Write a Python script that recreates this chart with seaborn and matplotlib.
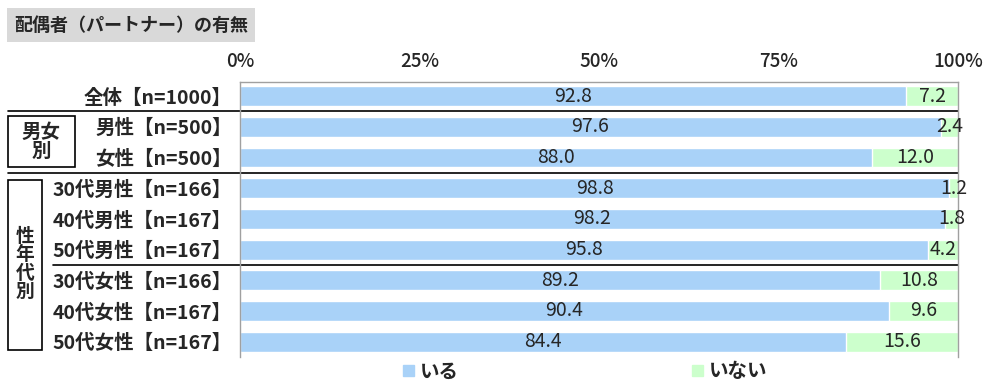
import matplotlib
matplotlib.use("Agg")
import matplotlib.pyplot as plt
import matplotlib.patches as mpatches
import matplotlib.transforms as mtransforms
import seaborn as sns
import pandas as pd

# data
labels = ["全体【n=1000】", "男性【n=500】", "女性【n=500】",
          "30代男性【n=166】", "40代男性【n=167】", "50代男性【n=167】",
          "30代女性【n=166】", "40代女性【n=167】", "50代女性【n=167】"]
iru = [92.8, 97.6, 88.0, 98.8, 98.2, 95.8, 89.2, 90.4, 84.4]
inai = [7.2, 2.4, 12.0, 1.2, 1.8, 4.2, 10.8, 9.6, 15.6]
series = ["いる", "いない"]
xticks = [0, 25, 50, 75, 100]

blue = "#A9D2F8"
green = "#CCFFCC"

sns.set_theme(style="white")
plt.rcParams["font.family"] = ["Noto Sans CJK JP", "DejaVu Sans"]

df = pd.DataFrame({"label": labels, "iru": iru, "inai": inai})
df["total"] = df["iru"] + df["inai"]

fig = plt.figure(figsize=(10, 3.85), dpi=100)
ax = fig.add_axes([0.24, 0.0727, 0.718, 0.714])

# stacked: total in green, then blue on top
sns.barplot(data=df, y="label", x="total", color=green, orient="h",
            width=0.65, ax=ax, saturation=1)
sns.barplot(data=df, y="label", x="iru", color=blue, orient="h",
            width=0.65, ax=ax, saturation=1)

ax.set_xlim(0, 100)
ax.set_ylim(8.49, -0.455)
ax.set_xlabel("")
ax.set_ylabel("")
ax.xaxis.tick_top()
ax.set_xticks(xticks)
ax.set_xticklabels([f"{t}%" for t in xticks], fontsize=13.5, fontweight="medium")
ax.tick_params(axis="x", length=0, pad=8)
ax.set_yticks(range(len(labels)))
ax.set_yticklabels(labels, fontsize=14, fontweight="bold")
ax.tick_params(axis="y", length=0, pad=6)
ax.set_yticks([i + 0.5 for i in range(len(labels))], minor=True)
ax.tick_params(axis="y", which="minor", length=4, direction="in", color="#999999")
for s in ax.spines.values():
    s.set_color("#A0A0A0")
    s.set_linewidth(1)
ax.spines["bottom"].set_visible(False)

# value labels
for i in range(len(labels)):
    ax.text(iru[i] / 2, i, f"{iru[i]:.1f}", ha="center", va="center", fontsize=14)
    ax.text(iru[i] + inai[i] / 2, i, f"{inai[i]:.1f}", ha="center", va="center", fontsize=14)

# group separators
tr = mtransforms.blended_transform_factory(ax.transAxes, ax.transData)
for y, x0 in [(0.5, -0.323), (2.5, -0.323), (5.5, -0.2605)]:
    ax.plot([x0, 1.0], [y, y], transform=tr, color="black", lw=1.2, clip_on=False)

# group boxes
W, H = 1000, 385
def fig_rect(x0, y0, x1, y1):
    return mpatches.Rectangle((x0 / W, 1 - y1 / H), (x1 - x0) / W, (y1 - y0) / H,
                              transform=fig.transFigure, fill=False,
                              edgecolor="black", lw=1.2)
fig.patches.append(fig_rect(8, 116, 75, 167))
fig.patches.append(fig_rect(8, 180, 42, 350))
fig.text(41 / W, 1 - 142 / H, "男女\n別", ha="center", va="center",
         fontsize=14, fontweight="bold", linespacing=1.0)
fig.text(25 / W, 1 - 264 / H, "性\n年\n代\n別", ha="center", va="center",
         fontsize=13.5, fontweight="bold", linespacing=0.95)

# title with grey background
fig.text(14 / W, 1 - 25 / H, "配偶者（パートナー）の有無", ha="left", va="center",
         fontsize=13, fontweight="bold",
         bbox=dict(facecolor="#D9D9D9", edgecolor="none", boxstyle="square,pad=0.4"))

# legend
handles = [mpatches.Patch(color=blue, label=series[0]),
           mpatches.Patch(color=green, label=series[1])]
leg = fig.legend(handles=handles, loc="center", bbox_to_anchor=(0.585, 0.034),
                 ncol=2, frameon=False, handlelength=0.55, handleheight=0.55,
                 handletextpad=0.3, columnspacing=12,
                 prop={"size": 14, "weight": "bold"})

fig.savefig("out.png", dpi=100)
